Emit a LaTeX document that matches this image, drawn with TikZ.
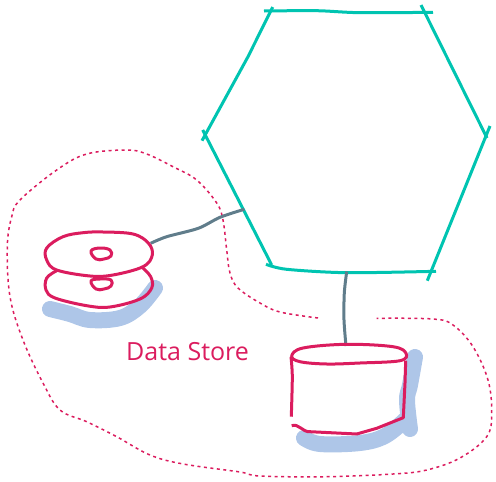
\documentclass[tikz,border=0pt]{standalone}
\usepackage{fontspec}
\setmainfont{Open Sans}
\definecolor{hexteal}{HTML}{00C4B1}
\definecolor{wirepink}{HTML}{DB1C5E}
\definecolor{linkgrey}{HTML}{607D8B}
\definecolor{shadeblue}{HTML}{AEC6E8}
\tikzset{
  hexedge/.style={draw=hexteal,line width=3pt,line cap=butt},
  pinkline/.style={draw=wirepink,line width=3pt,line cap=round,line join=round},
  greylink/.style={draw=linkgrey,line width=3pt},
  shade stroke/.style={draw=shadeblue,line width=16pt,line cap=round,line join=round},
  boundary/.style={draw=wirepink,line width=1.5pt,dash pattern=on 3pt off 3.5pt},
  lbl/.style={text=wirepink,font=\fontsize{25}{30}\selectfont,inner sep=0pt,anchor=base west}
}
\begin{document}
\begin{tikzpicture}[x=1pt,y=-1pt]
\useasboundingbox (0,0) rectangle (496,482);
% blue shadows
\draw[shade stroke] plot[smooth,tension=0.6] coordinates {(50,309) (70,314) (90,320) (120,318) (140,306) (155,288)};
\draw[shade stroke] plot[smooth,tension=0.6] coordinates {(304,438) (320,444) (360,443) (385,436) (405,420)};
\draw[shade stroke] plot[smooth,tension=0.6] coordinates {(415,357) (410,385) (407,400) (410,429)};
% boundary
\draw[boundary] plot[smooth,tension=0.6] coordinates {(318,318) (280,312) (260,303) (238,288) (230,273) (226.7,250) (223,220) (216.7,203) (196.7,180) (173,166.7) (146.7,154) (126.7,150) (86.7,154) (56.7,170) (20,200) (11.7,216.7) (7.3,246.7) (10,296.7) (23,340) (43,383) (60,410) (86.7,421.7) (116.7,436.7) (150,455) (183.3,464) (240,472) (260,476) (326.7,476.7) (393,474) (426.7,470) (460,458) (486.7,436.7) (491.7,413) (488,380) (473,346.7) (453,325) (433,319) (376.7,318.3)};
% hexagon
\coordinate (h1a) at (264,11); \coordinate (h1b) at (433,12.3);
\draw[hexedge] plot[smooth,tension=0.5] coordinates {(h1a) (317,10.7) (360,12.7) (h1b)};
\draw[hexedge] (272.7,7) -- (248,56.7) -- (202,140.7);
\draw[hexedge] (421,5) -- (487,138);
\draw[hexedge] (490,126) -- (427.3,280.7);
\draw[hexedge] (202.7,130) -- (271.7,265);
\draw[hexedge] plot[smooth,tension=0.5] coordinates {(266,264.3) (286.7,269.3) (346.7,272.7) (436,271.3)};
% connectors
\coordinate (gA) at (346.7,271.5); \coordinate (gB) at (346,346);
\coordinate (gC) at (244.3,209.3); \coordinate (gD) at (150.7,243.3);
\draw[greylink] plot[smooth,tension=0.5] coordinates {(gA) (344.3,293) (344,320) (gB)};
\draw[greylink] plot[smooth,tension=0.5] coordinates {(gD) (166.7,236.7) (198.3,228.3) (220,217.3) (gC)};
% disks
\draw[pinkline] plot[smooth cycle,tension=0.6] coordinates {(103,232) (133,234) (148.3,243) (152.3,255) (143,266.7) (113,275) (90,276) (56.7,270) (46.7,260) (46.7,248) (63,236.7) (83,232.7)};
\draw[pinkline] plot[smooth,tension=0.6] coordinates {(56.7,270.7) (46.7,278) (46,290) (55,298) (86.7,305.7) (110,307) (140,299) (151.7,288) (150.7,276.7) (141.7,267)};
\draw[pinkline] plot[smooth cycle,tension=0.7] coordinates {(91,251) (100,248) (110,250) (111,256) (104,259) (96,259)};
\draw[pinkline] plot[smooth cycle,tension=0.7] coordinates {(91,281) (100,279) (111,280) (111,286) (104,289) (96,289)};
% cylinder
\draw[pinkline] plot[smooth cycle,tension=0.6] coordinates {(291.7,356) (303,348) (346.7,344.3) (393,346.7) (406,353.3) (400,360.7) (360,363) (326.7,364) (300,361.7)};
\draw[pinkline,line cap=butt] plot[smooth,tension=0.5] coordinates {(291,356.7) (292.3,376.7) (291.3,416.7)};
\draw[pinkline,line cap=butt] (291.7,425.7) to[out=20,in=185] (310,431.7) -- (356.7,434) -- (376.7,428.3) -- (403.3,417.7) -- (405,383) -- (405.7,360.7);
% label
\node[lbl] (dslabel) at (126,360) {Data Store};
\end{tikzpicture}
\end{document}
